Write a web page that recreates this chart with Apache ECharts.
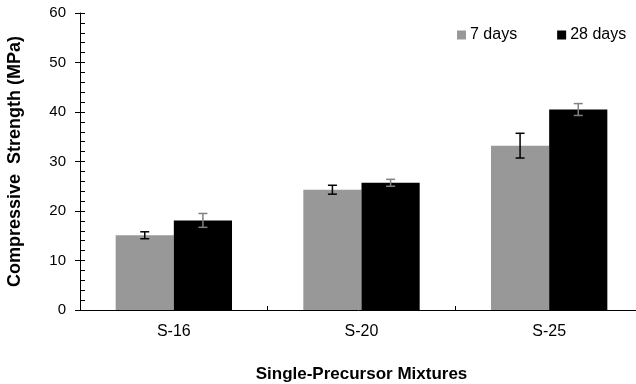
<!DOCTYPE html>
<html>
<head>
<meta charset="utf-8">
<script src="https://cdn.jsdelivr.net/npm/echarts@6/dist/echarts.min.js"></script>
<style>html,body{margin:0;padding:0;background:#fff}#c{width:636px;height:384px}</style>
</head>
<body>
<div id="c"></div>
<script>
const categories = ['S-16', 'S-20', 'S-25'];
const days7 = [15.1, 24.3, 33.2];
const days7Err = [0.7, 0.9, 2.5];
const days28 = [18.1, 25.7, 40.5];
const days28Err = [1.4, 0.7, 1.2];
const yTicks = [0, 10, 20, 30, 40, 50, 60];

const FONT = '"Liberation Sans", Arial, sans-serif';
const BAR_FRAC = 0.31;

function errData(vals, errs) {
  return vals.map((v, i) => [i, v, errs[i]]);
}
function errRender(side, color) {
  return function (params, api) {
    const ci = api.value(0), v = api.value(1), e = api.value(2);
    const band = api.size([1, 0])[0];
    const off = side * band * BAR_FRAC / 2;
    const top = api.coord([ci, v + e]);
    const bot = api.coord([ci, v - e]);
    const x = top[0] + off;
    const cap = 4.5;
    const style = { stroke: color, lineWidth: 1.5 };
    return {
      type: 'group',
      children: [
        { type: 'line', shape: { x1: x, y1: top[1], x2: x, y2: bot[1] }, style },
        { type: 'line', shape: { x1: x - cap, y1: top[1], x2: x + cap, y2: top[1] }, style },
        { type: 'line', shape: { x1: x - cap, y1: bot[1], x2: x + cap, y2: bot[1] }, style }
      ]
    };
  };
}

const chart = echarts.init(document.getElementById('c'), null, { renderer: 'canvas' });
chart.setOption({
  animation: false,
  textStyle: { fontFamily: FONT },
  grid: { left: 80, top: 13, bottom: 74, right: -7, containLabel: false, outerBoundsMode: 'none' },
  legend: {
    data: ['7 days', '28 days'],
    left: 457, top: 27, padding: 0,
    icon: 'rect', itemWidth: 9, itemHeight: 9, itemGap: 40,
    textStyle: { fontSize: 16, color: '#000', fontFamily: FONT, padding: [0, 0, 0, -1] }
  },
  xAxis: {
    type: 'category',
    data: categories,
    axisLine: { lineStyle: { color: '#000', width: 1 } },
    axisTick: { show: true, inside: true, length: 4, lineStyle: { color: '#000' } },
    axisLabel: { fontSize: 16, color: '#000', margin: 14, fontFamily: FONT },
    name: 'Single-Precursor Mixtures',
    nameLocation: 'middle',
    nameGap: 56,
    nameTextStyle: { fontSize: 17, fontWeight: 'bold', color: '#000', fontFamily: FONT }
  },
  yAxis: [{
    type: 'value',
    min: yTicks[0], max: yTicks[yTicks.length - 1], interval: 10,
    axisLine: { show: true, lineStyle: { color: '#000', width: 1 } },
    axisTick: { show: true, inside: true, length: 5, lineStyle: { color: '#000' } },
    minorTick: { show: true, splitNumber: 5, length: 5, lineStyle: { color: '#000' } },
    splitLine: { show: false },
    axisLabel: { fontSize: 15, color: '#000', margin: 14, fontFamily: FONT },
    name: 'Compressive  Strength (MPa)',
    nameLocation: 'middle',
    nameGap: 56,
    nameRotate: 90,
    nameTextStyle: { fontSize: 18, fontWeight: 'bold', color: '#000', fontFamily: FONT }
  }, {
    type: 'value',
    position: 'left',
    min: yTicks[0], max: yTicks[yTicks.length - 1], interval: 10,
    axisLine: { show: false },
    axisTick: { show: true, inside: false, length: 5, lineStyle: { color: '#000' } },
    splitLine: { show: false },
    axisLabel: { show: false }
  }],
  series: [
    {
      name: '7 days', type: 'bar', data: days7,
      barWidth: (BAR_FRAC * 100) + '%', barGap: '0%',
      itemStyle: { color: '#989898' }
    },
    {
      name: '28 days', type: 'bar', data: days28,
      barWidth: (BAR_FRAC * 100) + '%', barGap: '0%',
      itemStyle: { color: '#000000' }
    },
    {
      name: 'err7', type: 'custom', data: errData(days7, days7Err),
      renderItem: errRender(-1, '#000'), z: 10,
      encode: { x: 0, y: [1] }
    },
    {
      name: 'err28', type: 'custom', data: errData(days28, days28Err),
      renderItem: errRender(1, '#808080'), z: 10,
      encode: { x: 0, y: [1] }
    }
  ]
});
</script>
</body>
</html>
